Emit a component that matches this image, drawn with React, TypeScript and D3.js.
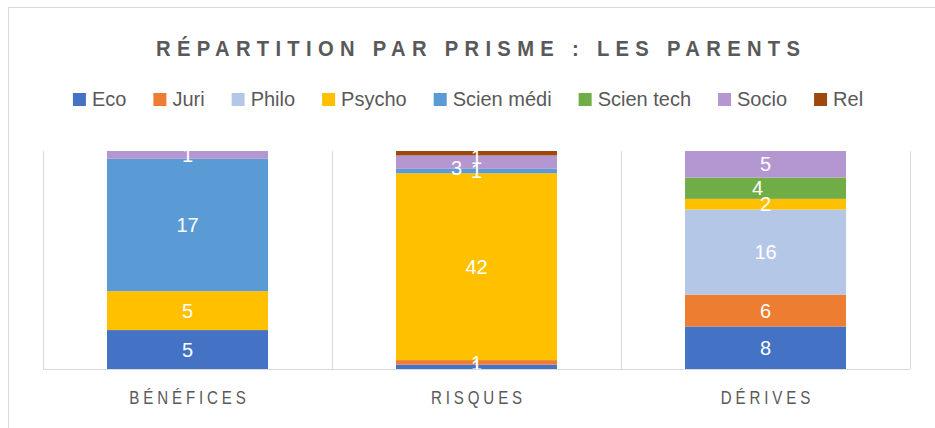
import * as d3 from 'd3';
import React, { useRef, useEffect } from 'react';

const categories = ['BÉNÉFICES', 'RISQUES', 'DÉRIVES'];
const seriesNames = ['Eco', 'Juri', 'Philo', 'Psycho', 'Scien médi', 'Scien tech', 'Socio', 'Rel'];
const eco = [5, 1, 8];
const juri = [0, 1, 6];
const philo = [0, 0, 16];
const psycho = [5, 42, 2];
const scienMedi = [17, 1, 0];
const scienTech = [0, 0, 4];
const socio = [1, 3, 5];
const rel = [0, 1, 0];
const colors = ['#4472C4', '#ED7D31', '#B4C7E7', '#FFC000', '#5B9BD5', '#70AD47', '#B497D0', '#9E480E'];

// small nudges excel applies to overlapping labels
const labelNudge: { [k: string]: [number, number] } = {
    'RISQUES|Socio': [-20, 6],
    'RISQUES|Rel': [0, 4],
    'DÉRIVES|Scien tech': [-8, 0],
};

const FONT = '"Liberation Sans", Arial, sans-serif';
const GREY = '#595959';
const NARROW = 0.84; // squeeze to get calibri-like proportions

function App() {
    const ref = useRef<SVGSVGElement>(null);

    useEffect(() => {
        const svg = d3.select(ref.current);
        svg.selectAll('*').remove();
        draw(svg);
    }, []);

    const draw = (svg: any) => {
        const W = 935, H = 428;
        const margin = { top: 151, left: 43, right: 25, bottom: 59 };
        const innerW = W - margin.left - margin.right;
        const innerH = H - margin.top - margin.bottom;

        const allSeries = [eco, juri, philo, psycho, scienMedi, scienTech, socio, rel];
        const table = categories.map((c, i) => {
            const row: any = { cat: c };
            seriesNames.forEach((s, j) => { row[s] = allSeries[j][i]; });
            return row;
        });
        const stacked = d3.stack().keys(seriesNames).offset(d3.stackOffsetExpand)(table);

        const x = d3.scaleBand().domain(categories).range([0, innerW])
            .paddingInner(0.443).paddingOuter(0.2215);
        const y = d3.scaleLinear().domain([0, 1]).range([innerH, 0]);
        const color = d3.scaleOrdinal<string>().domain(seriesNames).range(colors);

        // chart border
        svg.append('rect')
            .attr('x', 8.5).attr('y', 7.5)
            .attr('width', 940).attr('height', 440)
            .attr('fill', 'white').attr('stroke', '#D9D9D9');

        svg.append('g')
            .attr('transform', `translate(478,56) scale(0.92,1)`)
            .append('text')
            .attr('text-anchor', 'middle')
            .attr('font-family', FONT)
            .attr('font-weight', 'bold')
            .attr('font-size', 22)
            .attr('textLength', 644 / 0.92)
            .attr('lengthAdjust', 'spacing')
            .attr('fill', GREY)
            .text('RÉPARTITION PAR PRISME : LES PARENTS');

        // legend, laid out from measured text widths
        const legend = svg.append('g');
        const items = legend.selectAll('g.item').data(seriesNames).enter().append('g').attr('class', 'item');
        items.append('rect')
            .attr('y', 93).attr('width', 13).attr('height', 13)
            .attr('fill', (d: string) => color(d));
        items.append('text')
            .attr('x', 19).attr('y', 106)
            .attr('font-family', FONT)
            .attr('font-size', 20)
            .attr('fill', GREY)
            .text((d: string) => d);
        let pos = 0;
        const offsets: number[] = [];
        items.each(function (this: any) {
            offsets.push(pos);
            const tw = (d3.select(this).select('text').node() as SVGTextElement).getComputedTextLength();
            pos += 19 + tw + 27;
        });
        const total = pos - 27;
        const start = 468 - total / 2;
        items.attr('transform', (d: string, i: number) => `translate(${start + offsets[i]},0)`);

        const g = svg.append('g').attr('transform', `translate(${margin.left},${margin.top})`);

        g.append('clipPath').attr('id', 'plotclip')
            .append('rect').attr('x', 0).attr('y', 0).attr('width', innerW).attr('height', innerH);

        // category separators
        const bounds = d3.range(categories.length + 1).map(i => i * x.step());
        g.selectAll('.sep').data(bounds).enter().append('line')
            .attr('x1', (d: number) => d + 0.5).attr('x2', (d: number) => d + 0.5)
            .attr('y1', 0).attr('y2', innerH)
            .attr('stroke', '#D9D9D9');

        const layers = g.selectAll('.layer').data(stacked).enter().append('g')
            .attr('fill', (d: any) => color(d.key));
        layers.selectAll('rect').data((d: any) => d.map((v: any) => ({ v, key: d.key }))).enter().append('rect')
            .attr('x', (d: any) => x(d.v.data.cat))
            .attr('y', (d: any) => y(d.v[1]))
            .attr('width', x.bandwidth())
            .attr('height', (d: any) => y(d.v[0]) - y(d.v[1]));

        g.append('line')
            .attr('x1', 0).attr('x2', innerW)
            .attr('y1', innerH + 0.5).attr('y2', innerH + 0.5)
            .attr('stroke', '#D9D9D9');

        // data labels
        const labels = g.append('g').attr('clip-path', 'url(#plotclip)');
        stacked.forEach((layer: any) => {
            layer.forEach((v: any) => {
                const val = v.data[layer.key];
                if (!val) return;
                const nudge = labelNudge[v.data.cat + '|' + layer.key] || [0, 0];
                labels.append('text')
                    .attr('x', (x(v.data.cat) as number) + x.bandwidth() / 2 + nudge[0])
                    .attr('y', (y(v[0]) + y(v[1])) / 2 + nudge[1])
                    .attr('dy', '0.36em')
                    .attr('text-anchor', 'middle')
                    .attr('font-family', FONT)
                    .attr('font-size', 20)
                    .attr('fill', 'white')
                    .text(val);
            });
        });

        // category labels
        g.selectAll('.cat').data(categories).enter().append('g')
            .attr('transform', (d: string) =>
                `translate(${(x(d) as number) + x.bandwidth() / 2 + 2},${innerH + 35}) scale(${NARROW},1)`)
            .append('text')
            .attr('text-anchor', 'middle')
            .attr('font-family', FONT)
            .attr('font-size', 18)
            .attr('letter-spacing', 4.6)
            .attr('fill', GREY)
            .text((d: string) => d);
    };

    return (
        <svg ref={ref} width={935} height={428} style={{ position: 'absolute', left: 0, top: 0 }}>
        </svg>
    );
}

export default App;
